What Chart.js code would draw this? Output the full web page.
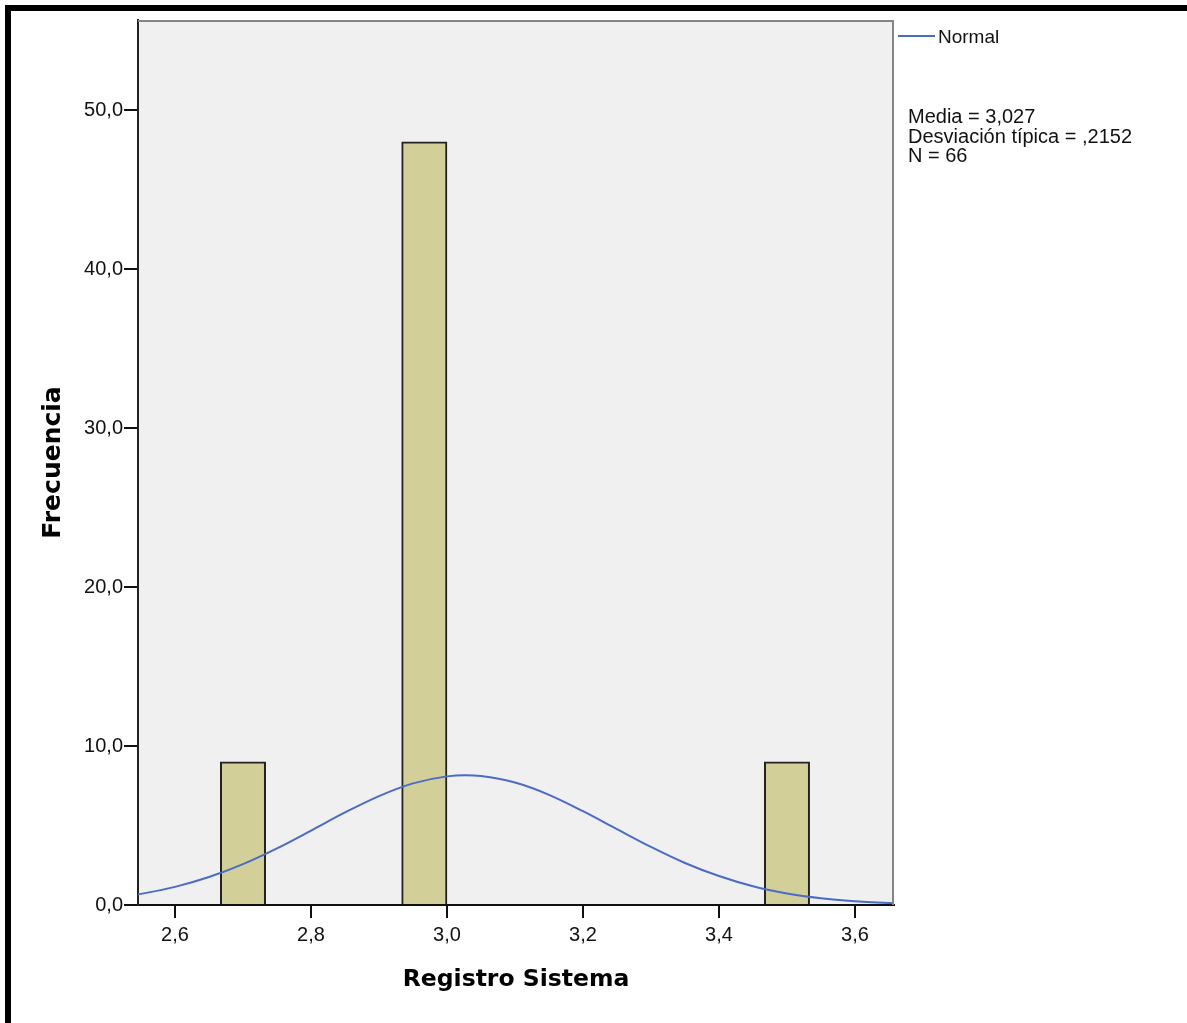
<!DOCTYPE html>
<html>
<head>
<meta charset="utf-8">
<script src="https://cdn.jsdelivr.net/npm/chart.js@4.4.1/dist/chart.umd.min.js"></script>
<style>
    html, body { margin: 0; padding: 0; background: #fff; }
    canvas { display: block; }
</style>
</head>
<body>
<canvas id="hist" width="1187" height="1023"></canvas>
<script>
// centros de los intervalos del histograma y frecuencias
const binCenters = [2.70000, 2.76667, 2.83333, 2.90000, 2.96667, 3.03333, 3.10000, 3.16667, 3.23333, 3.30000, 3.36667, 3.43333, 3.50000];
const binCounts = [9, 0, 0, 0, 48, 0, 0, 0, 0, 0, 0, 0, 9];

// curva normal
const normalX = [2.50, 2.55, 2.60, 2.65, 2.70, 2.75, 2.80, 2.85, 2.90, 2.95, 3.00, 3.027, 3.05, 3.10, 3.15, 3.20, 3.25, 3.30, 3.35, 3.40, 3.45, 3.50, 3.55, 3.60, 3.65, 3.70];
const normalY = [0.41, 0.70, 1.14, 1.76, 2.57, 3.56, 4.68, 5.82, 6.85, 7.65, 8.09, 8.16, 8.11, 7.70, 6.93, 5.90, 4.77, 3.65, 2.64, 1.82, 1.18, 0.73, 0.43, 0.24, 0.12, 0.06];

const xTicks = [2.6, 2.8, 3.0, 3.2, 3.4, 3.6];
const yTicks = [0, 10, 20, 30, 40, 50];

const statsLines = ['Media = 3,027', 'Desviación típica = ,2152', 'N = 66'];

const TEXT_FONT = '"Liberation Sans", Arial, sans-serif';
const TITLE_FONT = '"DejaVu Sans", Verdana, sans-serif';
const LINE_COLOR = '#4a6cc7';

const fmtComma = (v, d) => v.toFixed(d).replace('.', ',');

// marco negro, fondo del área de trazado
const backdrop = {
    id: 'backdrop',
    beforeDraw(chart) {
        const { ctx, chartArea: a } = chart;
        ctx.save();
        ctx.fillStyle = '#ffffff';
        ctx.fillRect(0, 0, chart.width, chart.height);
        ctx.fillStyle = '#000000';
        ctx.fillRect(5, 5, chart.width - 5, 6);
        ctx.fillRect(5, 5, 6, chart.height - 5);
        ctx.fillStyle = '#f0f0f0';
        ctx.fillRect(a.left, a.top, a.right - a.left, a.bottom - a.top);
        ctx.restore();
    },
    afterDraw(chart) {
        const { ctx, chartArea: a } = chart;
        ctx.save();
        ctx.strokeStyle = '#858585';
        ctx.lineWidth = 2;
        ctx.beginPath();
        ctx.moveTo(a.left, a.top + 1);
        ctx.lineTo(a.right - 1, a.top + 1);
        ctx.lineTo(a.right - 1, a.bottom);
        ctx.stroke();
        ctx.restore();
    }
};

// leyenda y estadísticos a la derecha
const sideNotes = {
    id: 'sideNotes',
    afterDraw(chart) {
        const { ctx, chartArea: a } = chart;
        const ds = chart.data.datasets[0];
        ctx.save();
        ctx.strokeStyle = ds.borderColor;
        ctx.lineWidth = 2;
        ctx.beginPath();
        ctx.moveTo(a.right + 4, 36);
        ctx.lineTo(a.right + 41, 36);
        ctx.stroke();

        ctx.fillStyle = '#111';
        ctx.textBaseline = 'middle';
        ctx.font = '19px ' + TEXT_FONT;
        ctx.fillText(ds.label, a.right + 44, 38);

        ctx.font = '20px ' + TEXT_FONT;
        ctx.textBaseline = 'alphabetic';
        statsLines.forEach((line, i) => {
            ctx.fillText(line, a.right + 14, 123 + i * 19.5);
        });
        ctx.restore();
    }
};

new Chart(document.getElementById('hist'), {
    data: {
        datasets: [
            {
                type: 'line',
                label: 'Normal',
                data: normalX.map((x, i) => ({ x, y: normalY[i] })),
                borderColor: LINE_COLOR,
                borderWidth: 2,
                pointRadius: 0,
                cubicInterpolationMode: 'monotone',
                order: 0,
            },
            {
                type: 'bar',
                label: 'Frecuencia',
                data: binCenters.map((x, i) => ({ x, y: binCounts[i] })),
                backgroundColor: '#d3cf98',
                borderColor: '#222222',
                borderWidth: 2,
                barPercentage: 1,
                categoryPercentage: 1,
                order: 1,
            },
        ],
    },
    options: {
        responsive: false,
        animation: false,
        devicePixelRatio: 1,
        layout: { padding: { top: 20, right: 293, bottom: 0, left: 0 } },
        plugins: {
            legend: { display: false },
            tooltip: { enabled: false },
        },
        scales: {
            x: {
                type: 'linear',
                offset: false,
                min: 2.5456,
                max: 3.6574,
                afterFit: (scale) => { scale.height = 118; },
                afterBuildTicks: (scale) => { scale.ticks = xTicks.map((v) => ({ value: v })); },
                ticks: {
                    color: '#111',
                    font: { family: TEXT_FONT, size: 20 },
                    padding: 5,
                    maxRotation: 0,
                    callback: (v) => fmtComma(v, 1),
                },
                grid: { offset: false, drawOnChartArea: false, color: '#111', lineWidth: 2, tickLength: 13 },
                border: { color: '#111', width: 2 },
                title: {
                    display: true,
                    text: 'Registro Sistema',
                    color: '#000',
                    font: { family: TITLE_FONT, size: 23.5, weight: 'bold' },
                    padding: { top: 0, bottom: 29 },
                },
            },
            y: {
                min: 0,
                max: 55.66,
                afterFit: (scale) => { scale.width = 138; },
                afterBuildTicks: (scale) => { scale.ticks = yTicks.map((v) => ({ value: v })); },
                ticks: {
                    color: '#111',
                    font: { family: TEXT_FONT, size: 20 },
                    padding: 1,
                    callback: (v) => fmtComma(v, 1),
                },
                grid: { drawOnChartArea: false, color: '#111', lineWidth: 2, tickLength: 14 },
                border: { color: '#222', width: 2 },
                title: {
                    display: true,
                    text: 'Frecuencia',
                    color: '#000',
                    font: { family: TITLE_FONT, size: 25, weight: 'bold' },
                    padding: { top: 38, bottom: 0 },
                },
            },
        },
    },
    plugins: [backdrop, sideNotes],
});
</script>
</body>
</html>
